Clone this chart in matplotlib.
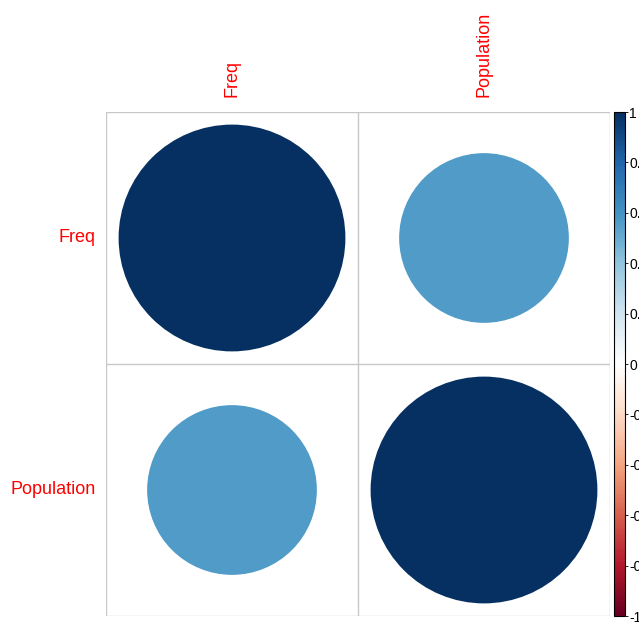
import numpy as np
import matplotlib.pyplot as plt
from matplotlib.colors import LinearSegmentedColormap, Normalize
from matplotlib.patches import Circle
from matplotlib.cm import ScalarMappable

plt.rcParams['font.family'] = ['Liberation Sans', 'DejaVu Sans']

variables = ['Freq', 'Population']
corr = np.array([[1.0, 0.56],
                 [0.56, 1.0]])
cbar_ticks = [-1, -0.8, -0.6, -0.4, -0.2, 0, 0.2, 0.4, 0.6, 0.8, 1]

# RdBu ramp as used by corrplot
rdbu = ["#67001F", "#B2182B", "#D6604D", "#F4A582", "#FDDBC7", "#FFFFFF",
        "#D1E5F0", "#92C5DE", "#4393C3", "#2166AC", "#053061"]
cmap = LinearSegmentedColormap.from_list('rdbu', rdbu, N=200)
norm = Normalize(-1, 1)

W, H = 639, 622
fig = plt.figure(figsize=(W / 100, H / 100), dpi=100)

x0, y0, side = 106, 112, 504
ax = fig.add_axes([x0 / W, 1 - (y0 + side) / H, side / W, side / H])
n = len(variables)
ax.set_xlim(0.5, n + 0.5)
ax.set_ylim(n + 0.5, 0.5)
ax.set_aspect('equal')
ax.axis('off')

# cell grid
for k in np.arange(0.5, n + 1, 1):
    ax.plot([0.5, n + 0.5], [k, k], color='#C8C8C8', lw=1)
    ax.plot([k, k], [0.5, n + 0.5], color='#C8C8C8', lw=1)

for i in range(n):
    for j in range(n):
        r = corr[i, j]
        rad = 0.45 * np.sqrt(abs(r))
        ax.add_patch(Circle((j + 1, i + 1), rad, color=cmap(norm(r)), lw=0))

for i, name in enumerate(variables):
    ax.text(0.5 - 0.04, i + 1, name, color='red', fontsize=13,
            ha='right', va='center')
    ax.text(i + 1, 0.5 - 0.06, name, color='red', fontsize=13,
            ha='center', va='bottom', rotation=90)

cax = fig.add_axes([614 / W, 1 - (y0 + side) / H, 11 / W, side / H])
cb = fig.colorbar(ScalarMappable(norm=norm, cmap=cmap), cax=cax, ticks=cbar_ticks)
cb.outline.set_linewidth(0.8)
cb.ax.set_yticklabels([f'{t:g}' for t in cbar_ticks])
cb.ax.tick_params(length=2, width=0.6, pad=1, labelsize=10)
for lab in cb.ax.get_yticklabels():
    lab.set_horizontalalignment('left')

fig.savefig('out.png', dpi=100)
